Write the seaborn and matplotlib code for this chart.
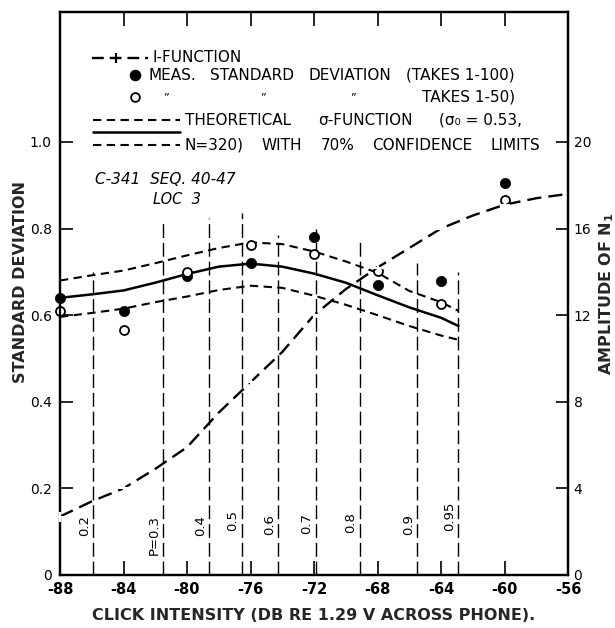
import matplotlib
matplotlib.use("Agg")
import matplotlib.pyplot as plt
import pandas as pd
import seaborn as sns

# Click intensity (dB re 1.29 V across phone) of the measured points
intensity = [-88, -84, -80, -76, -72, -68, -64, -60]
sd_takes_100 = [0.64, 0.61, 0.69, 0.72, 0.78, 0.67, 0.68, 0.905]
sd_takes_50 = [0.61, 0.565, 0.70, 0.763, 0.742, 0.703, 0.625, 0.865]

# I-function: amplitude of N1 against click intensity
i_intensity = [-88, -86, -84, -82, -80, -78, -76, -74, -72, -70, -68, -66,
               -64, -62, -60, -58, -56]
i_amplitude = [2.7, 3.4, 4.0, 4.9, 5.9, 7.5, 8.9, 10.3, 12.0, 13.2, 14.2, 15.1,
               16.0, 16.6, 17.1, 17.4, 17.6]

# Theoretical sigma-function (sigma0 = 0.53, N = 320) and 70% confidence limits
sig_intensity = [-88, -86, -84, -82, -80, -78, -76, -74, -72, -70, -68, -66, -64, -62.9]
sig_mid = [0.64, 0.648, 0.657, 0.675, 0.695, 0.712, 0.719, 0.712, 0.696, 0.675,
           0.646, 0.618, 0.594, 0.575]
sig_upper = [0.68, 0.692, 0.703, 0.72, 0.738, 0.755, 0.768, 0.764, 0.747, 0.724,
             0.698, 0.656, 0.63, 0.61]
sig_lower = [0.596, 0.605, 0.615, 0.63, 0.643, 0.658, 0.668, 0.663, 0.645, 0.624,
             0.60, 0.575, 0.553, 0.543]

# Detection-probability levels
p_labels = ["0.2", "P=0.3", "0.4", "0.5", "0.6", "0.7", "0.8", "0.9", "0.95"]
p_intensity = [-85.9, -81.5, -78.6, -76.55, -74.25, -71.9, -69.1, -65.5, -62.9]
p_top = [0.70, 0.82, 0.825, 0.835, 0.785, 0.80, 0.775, 0.72, 0.70]

x_ticks = [-88, -84, -80, -76, -72, -68, -64, -60, -56]
sd_ticks = [0, 0.2, 0.4, 0.6, 0.8, 1.0]
sd_tick_labels = ["0", "0.2", "0.4", "0.6", "0.8", "1.0"]
amp_ticks = [0, 4, 8, 12, 16, 20]

sns.set_theme(style="ticks")
plt.rcParams["font.family"] = ["DejaVu Sans"]

W, H = 615, 628
fig = plt.figure(figsize=(W / 100, H / 100), dpi=100)
L, R, T, B = 60, 568, 12, 575
ax = fig.add_axes([L / W, 1 - B / H, (R - L) / W, (B - T) / H])
ax2 = ax.twinx()

ax.set_xlim(-88, -56)
ax.set_ylim(0, 1.3)
ax2.set_ylim(0, 26)

ink = "black"

# probability lines
ax.vlines(p_intensity, 0, p_top, colors=ink, linewidth=1.0,
          linestyles=(0, (10, 3.5)), zorder=1)
label_y = [0.114, 0.093, 0.114, 0.125, 0.116, 0.12, 0.12, 0.116, 0.135]
for xp, lab, yl in zip(p_intensity, p_labels, label_y):
    ax.text(xp - 0.57, yl, lab, rotation=90, ha="center", va="center",
            fontsize=9.5, color=ink)

# theoretical sigma-function and limits
sig = pd.DataFrame({"x": sig_intensity, "mid": sig_mid,
                    "up": sig_upper, "lo": sig_lower})
sns.lineplot(data=sig, x="x", y="mid", ax=ax, color=ink, linewidth=1.8,
             sort=False, zorder=3)
for col in ["up", "lo"]:
    sns.lineplot(data=sig, x="x", y=col, ax=ax, color=ink, linewidth=1.5,
                 sort=False, zorder=3).lines[-1].set_dashes((4, 2.6))

# measured standard deviations
meas = pd.DataFrame({"x": intensity, "s100": sd_takes_100, "s50": sd_takes_50})
sns.scatterplot(data=meas, x="x", y="s100", ax=ax, color=ink, s=55,
                edgecolor=ink, linewidth=0.5, zorder=5, clip_on=False)
sns.scatterplot(data=meas, x="x", y="s50", ax=ax, facecolor="white", s=42,
                edgecolor=ink, linewidth=1.3, zorder=6, clip_on=False)

# I-function on the right-hand scale
marks = [k for k, v in enumerate(i_intensity) if v in intensity]
ifun = pd.DataFrame({"x": i_intensity, "amp": i_amplitude})
sns.lineplot(data=ifun, x="x", y="amp", ax=ax2, color=ink, linewidth=1.7,
             marker="+", markersize=7, markeredgewidth=1.5, markevery=marks,
             sort=False, zorder=4, clip_on=False)
ax2.lines[-1].set_dashes((6, 3))

# axes styling
for a in (ax, ax2):
    for sp in a.spines.values():
        sp.set_linewidth(1.6)
        sp.set_color(ink)
ax.set_xticks(x_ticks)
ax.set_xticklabels([f"{v:d}" for v in x_ticks], fontsize=10.5, fontweight="bold")
ax.set_yticks(sd_ticks)
ax.set_yticklabels(sd_tick_labels, fontsize=10)
ax.tick_params(axis="x", direction="in", length=10, width=1.2, pad=5,
               top=True, colors=ink)
ax.tick_params(axis="y", direction="in", length=9, width=1.2, pad=6, colors=ink)
ax2.set_yticks(amp_ticks)
ax2.set_yticklabels([str(v) for v in amp_ticks], fontsize=10)
ax2.tick_params(axis="y", direction="in", length=9, width=1.2, pad=4, colors=ink)

ax.set_xlabel("CLICK INTENSITY (DB RE 1.29 V ACROSS PHONE).", fontsize=11.5,
              fontweight="bold", labelpad=8)
ax.set_ylabel("STANDARD DEVIATION", fontsize=11.5, fontweight="bold")
ax.yaxis.set_label_coords((28 - L) / (R - L), 0.52)
ax2.set_ylabel("AMPLITUDE OF N$_\\mathbf{1}$", fontsize=11.5, fontweight="bold")
ax2.yaxis.set_label_coords((597 - L) / (R - L), 0.5)


def px(x, y):
    """pixel position -> axes fraction"""
    return (x - L) / (R - L), (B - y) / (B - T)


def key_line(x0, x1, y, **kw):
    a, b = px(x0, y)
    c, _ = px(x1, y)
    ax.plot([a, c], [b, b], transform=ax.transAxes, color=ink, clip_on=False, **kw)


def key_text(x, y, s, size=11, **kw):
    a, b = px(x, y)
    return ax.text(a, b, s, transform=ax.transAxes, fontsize=size, va="center",
                   color=ink, **kw)


renderer = fig.canvas.get_renderer()


def key_justified(y, words, x0, x1, size=11):
    """spread the words of one legend line evenly between x0 and x1"""
    texts = [key_text(x0, y, w, size=size) for w in words]
    widths = [t.get_window_extent(renderer).width for t in texts]
    gap = (x1 - x0 - sum(widths)) / max(len(words) - 1, 1)
    x = x0
    for t, w in zip(texts, widths):
        t.set_position(px(x, y))
        x += w + gap


# legend
key_line(92, 148, 58, linewidth=1.7, dashes=(5, 2.5))
a, b = px(116, 58)
ax.plot([a], [b], transform=ax.transAxes, marker="+", markersize=7,
        markeredgewidth=1.5, color=ink, clip_on=False)
key_text(152, 58, "I-FUNCTION")
a, b = px(135, 75)
ax.plot([a], [b], transform=ax.transAxes, marker="o", markersize=7.3,
        color=ink, clip_on=False)
key_justified(75, ["MEAS.", "STANDARD", "DEVIATION", "(TAKES 1-100)"], 148, 515)
a, b = px(135, 97)
ax.plot([a], [b], transform=ax.transAxes, marker="o", markersize=6.3,
        markerfacecolor="white", markeredgewidth=1.3, color=ink, clip_on=False)
for qx in (163, 260, 350):
    key_text(qx, 97, "\u201d", size=8)
key_text(515, 97, "TAKES 1-50)", ha="right")
key_line(93, 180, 120, linewidth=1.5, dashes=(4, 2.6))
key_line(93, 180, 132, linewidth=1.8)
key_line(93, 180, 145, linewidth=1.5, dashes=(4, 2.6))
key_justified(120, ["THEORETICAL", "\u03c3-FUNCTION", "(\u03c3\u2080 = 0.53,"],
              185, 522)
key_justified(145, ["N=320)", "WITH", "70%", "CONFIDENCE", "LIMITS"], 185, 540)

# run identification
key_text(95, 180, "C-341  SEQ. 40-47", size=11, style="italic")
key_text(153, 199, "LOC  3", size=10.5, style="italic")

fig.savefig("out.png", dpi=100)
